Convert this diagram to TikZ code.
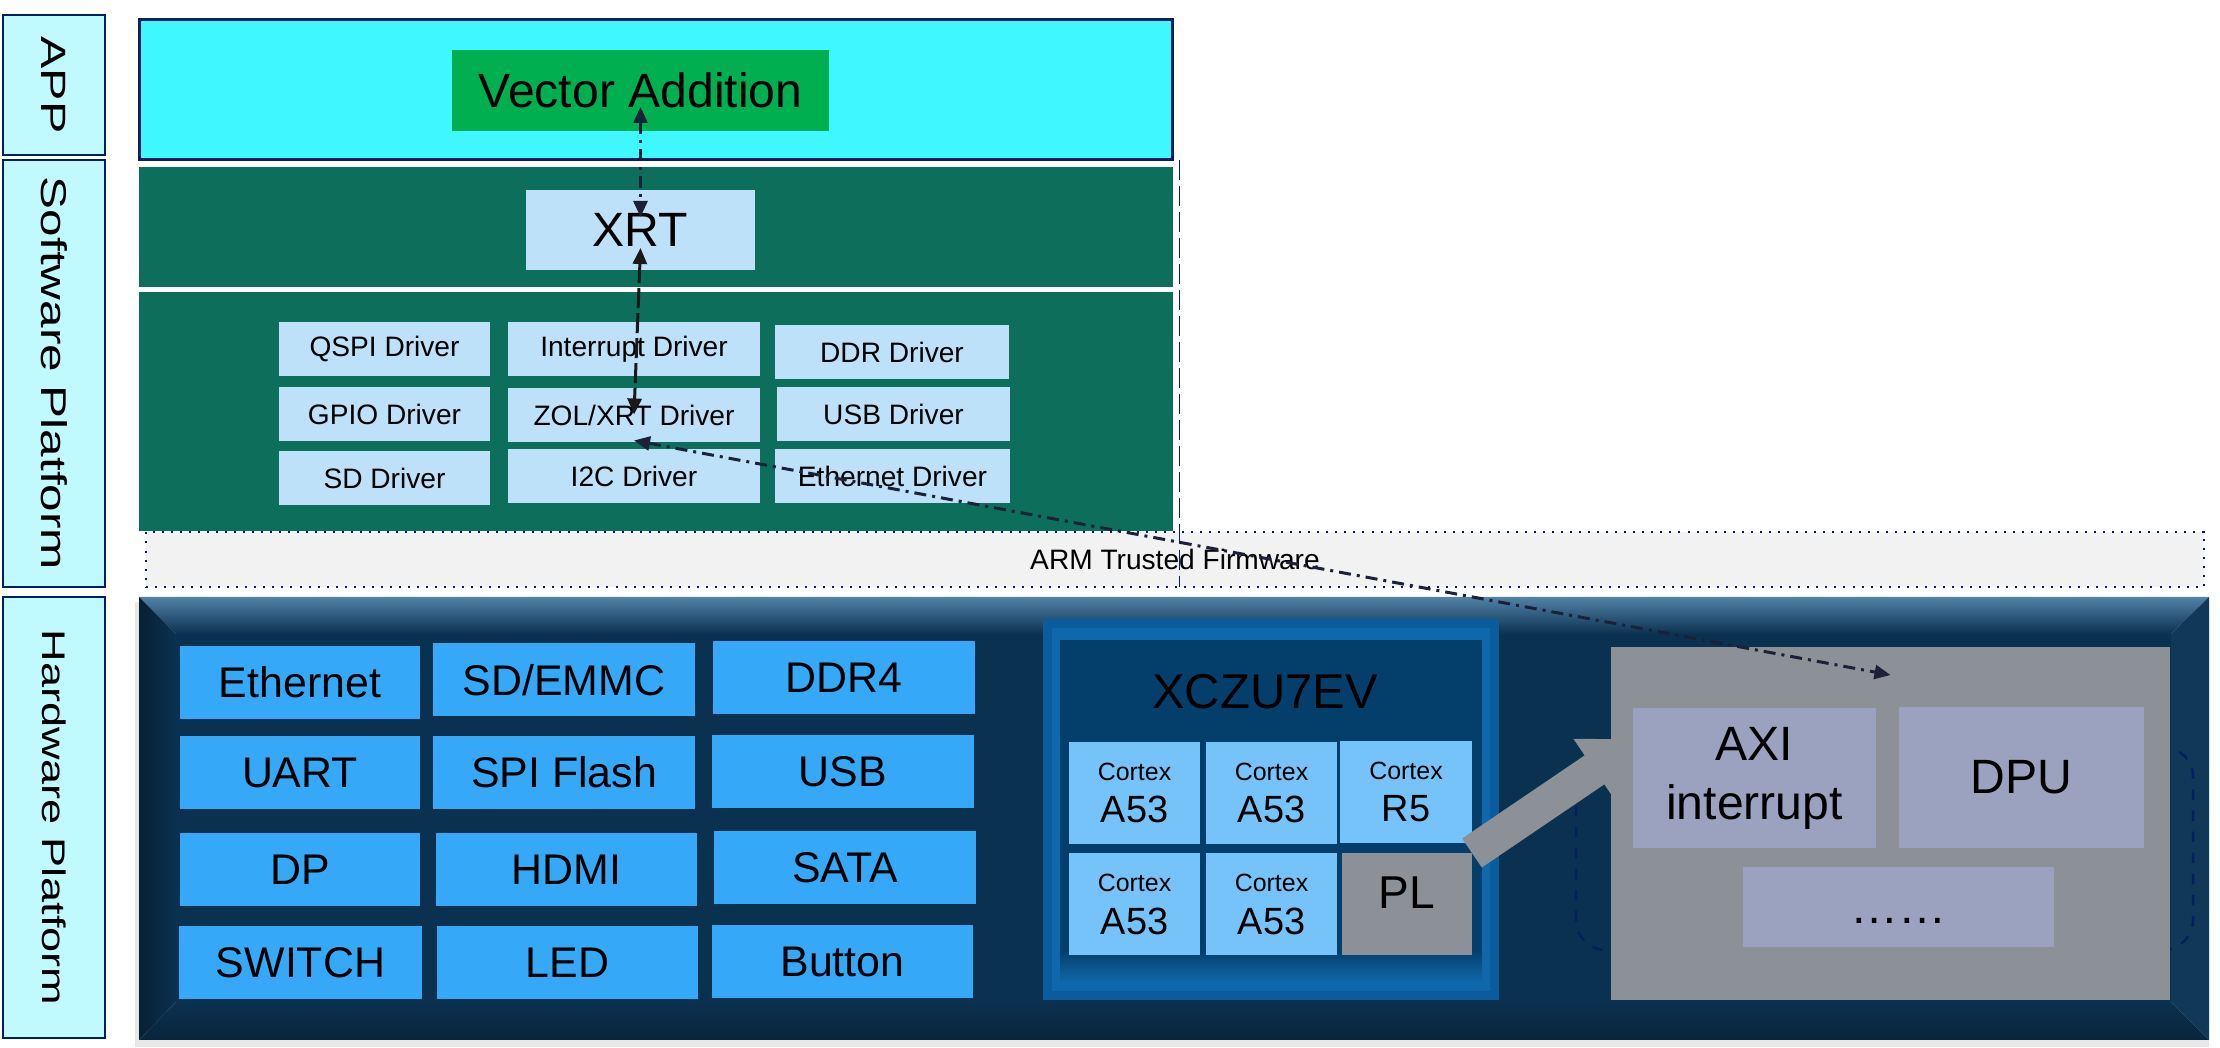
\documentclass[tikz,border=0pt]{standalone}
\usepackage{fontspec}
\setmainfont{Liberation Sans}
\newfontfamily\sidefont[FakeStretch=1.38]{Liberation Sans}
\usetikzlibrary{arrows.meta}
\definecolor{navy}{HTML}{002060}
\definecolor{sidecyan}{HTML}{C0FAFF}
\definecolor{appcyan}{HTML}{3EF7FF}
\definecolor{vagreen}{HTML}{00B050}
\definecolor{swgreen}{HTML}{0C6E5B}
\definecolor{drvblue}{HTML}{BDE1F9}
\definecolor{atfgrey}{HTML}{F2F2F2}
\definecolor{hwblue}{HTML}{35A9F7}
\definecolor{coreblue}{HTML}{76C3FA}
\definecolor{plgrey}{HTML}{8C9097}
\definecolor{lavender}{HTML}{9BA2BF}
\definecolor{linknavy}{HTML}{1B2139}
\definecolor{hwface}{HTML}{0B3150}
\definecolor{hwtop}{HTML}{5282A7}
\definecolor{fpgaedge}{HTML}{0B5C9C}
\definecolor{fpgalight}{HTML}{1068AC}
\definecolor{fpgaface}{HTML}{043F6B}

\begin{document}
\begin{tikzpicture}[x=0.1mm, y=-0.1mm,
	box/.style={rectangle, inner sep=0pt, outer sep=0pt, text=black},
	side/.style={box, fill=sidecyan, draw=navy, line width=0.25mm, minimum width=10.2mm},
	sidetext/.style={rotate=-90, inner sep=0pt, font=\sidefont\fontsize{#1}{12pt}\selectfont},
	band/.style={box, fill=swgreen, minimum width=103.4mm},
	drv/.style={box, fill=drvblue, minimum height=5.4mm, font=\fontsize{8pt}{9.6pt}\selectfont},
	periph/.style={box, fill=hwblue, minimum height=7.3mm, font=\fontsize{12.2pt}{14.6pt}\selectfont},
	core/.style={box, fill=coreblue, align=center, minimum width=13.1mm, minimum height=10.2mm, font=\fontsize{10.8pt}{12.2pt}\selectfont},
	big/.style={box, font=\fontsize{13.7pt}{16.8pt}\selectfont},
	link/.style={draw=linknavy, line width=0.3mm, dash pattern=on 1.2mm off 0.6mm on 0.3mm off 0.6mm, <->, >={Triangle[length=1.6mm, width=1.4mm]}},
]
	\useasboundingbox (0, 0) rectangle (2220, 1048);

	\node[side, minimum height=14mm] (lapp) at (54, 85) {};
	\node[side, minimum height=42.7mm] (lsw) at (54, 373.5) {};
	\node[side, minimum height=44.1mm] (lhw) at (54, 817.5) {};
	\node[sidetext=10pt] (tapp) at (lapp) {APP};
	\node[sidetext=10.2pt] (tsw) at (lsw) {Software Platform};
	\node[sidetext=9.3pt] (thw) at (lhw) {Hardware Platform};

	\node[box, fill=appcyan, draw=navy, line width=0.3mm, minimum width=103.3mm, minimum height=14mm] (appband) at (655.5, 90) {};
	\node[band, minimum height=12mm] (swtop) at (656, 227) {};
	\node[band, minimum height=23.9mm] (swdrv) at (656, 411.5) {};
	\node[box, fill=atfgrey, draw=navy, dotted, line width=0.2mm, minimum width=205.8mm, minimum height=5.5mm, font=\fontsize{8pt}{9.6pt}\selectfont] (atf) at (1175, 559.5) {ARM Trusted Firmware};
	\coordinate (septop) at (1179, 160);
	\coordinate (sepbot) at (1179, 587);
	\draw[navy, line width=0.1mm, dash pattern=on 2mm off 0.6mm] (septop) -- (sepbot);

	\node[big, fill=vagreen, minimum width=37.7mm, minimum height=8.1mm] (va) at (640.5, 90.5) {Vector Addition};
	\node[big, fill=drvblue, minimum width=22.9mm, minimum height=8mm] (xrt) at (640.5, 230) {XRT};

	\node[drv, minimum width=21.1mm] (qspi) at (384.5, 349) {QSPI Driver};
	\node[drv, minimum width=25.2mm] (intr) at (634, 349) {Interrupt Driver};
	\node[drv, minimum width=23.4mm] (ddr) at (892, 352.5) {DDR Driver};
	\node[drv, minimum width=21.1mm] (gpio) at (384.5, 414.5) {GPIO Driver};
	\node[drv, minimum width=25.2mm] (zol) at (634, 415.5) {ZOL/XRT Driver};
	\node[drv, minimum width=23.3mm] (usbd) at (893.5, 414) {USB Driver};
	\node[drv, minimum width=21.1mm] (sdd) at (384.5, 478.5) {SD Driver};
	\node[drv, minimum width=25.2mm] (i2c) at (634, 476) {I2C Driver};
	\node[drv, minimum width=23.5mm] (ethd) at (892.5, 476.5) {Ethernet Driver};

	\fill[black!9] (135, 602) rectangle (2209, 1047);
	\shade[top color=hwtop, bottom color=hwface] (139, 597) -- (2209, 597) -- (2171, 634) -- (176, 634) -- cycle;
	\shade[left color=black!35!hwface, right color=hwface] (139, 597) -- (176, 634) -- (176, 1002) -- (139, 1040) -- cycle;
	\fill[hwface!92!hwtop] (2209, 597) -- (2209, 1040) -- (2171, 1002) -- (2171, 634) -- cycle;
	\shade[top color=hwface, bottom color=black!25!hwface] (139, 1040) -- (176, 1002) -- (2171, 1002) -- (2209, 1040) -- cycle;
	\fill[hwface] (176, 634) rectangle (2171, 1002);

	\node[periph, minimum width=24mm] (eth) at (300, 682.5) {Ethernet};
	\node[periph, minimum width=26.2mm] (sdemmc) at (564, 680) {SD/EMMC};
	\node[periph, minimum width=26.2mm] (ddr4) at (844, 678) {DDR4};
	\node[periph, minimum width=24mm] (uart) at (300, 772.5) {UART};
	\node[periph, minimum width=26.2mm] (spi) at (564, 772.5) {SPI Flash};
	\node[periph, minimum width=26.2mm] (usb) at (843, 772) {USB};
	\node[periph, minimum width=24mm] (dp) at (300, 870) {DP};
	\node[periph, minimum width=26.1mm] (hdmi) at (566.5, 870) {HDMI};
	\node[periph, minimum width=26.2mm] (sata) at (845, 867.5) {SATA};
	\node[periph, minimum width=24.3mm] (switch) at (300.5, 963) {SWITCH};
	\node[periph, minimum width=26.1mm] (led) at (567.5, 962.5) {LED};
	\node[periph, minimum width=26.1mm] (button) at (842.5, 962) {Button};

	\fill[fpgaedge] (1043, 619) rectangle (1499, 1000);
	\fill[fpgalight] (1052, 628) rectangle (1490, 991);
	\fill[fpgaface] (1060, 640) rectangle (1482, 983);
	\shade[top color=fpgaface, bottom color=fpgalight] (1060, 950) rectangle (1482, 983);
	\node[big, font=\fontsize{13.9pt}{16.8pt}\selectfont] (zutitle) at (1265, 692) {XCZU7EV};
	\node[core] (ca1) at (1134.5, 793) {{\fontsize{7.1pt}{12.2pt}\selectfont Cortex}\\A53};
	\node[core] (ca2) at (1271.5, 793) {{\fontsize{7.1pt}{12.2pt}\selectfont Cortex}\\A53};
	\node[core, minimum width=13.2mm] (cr5) at (1406, 792) {{\fontsize{7.1pt}{12.2pt}\selectfont Cortex}\\R5};
	\node[core] (ca3) at (1134.5, 904.5) {{\fontsize{7.1pt}{12.2pt}\selectfont Cortex}\\A53};
	\node[core] (ca4) at (1271.5, 904.5) {{\fontsize{7.1pt}{12.2pt}\selectfont Cortex}\\A53};
	\node[box, fill=plgrey, minimum width=13mm, minimum height=10.2mm, text height=9.4pt, text depth=6.8pt, font=\fontsize{13.1pt}{15.7pt}\selectfont] (pl) at (1407, 904) {PL};

	\node[box, draw=navy, dashed, line width=0.25mm, rounded corners=3mm, minimum width=61.7mm, minimum height=20.3mm] (dpuframe) at (1884.5, 848.5) {};
	\coordinate (axitip) at (1640, 739);
	\draw[plgrey, line width=3.5mm, -{Triangle[length=5.5mm, width=7.1mm]}] (pl.north east) -- (axitip);
	\node[box, fill=plgrey, minimum width=55.9mm, minimum height=35.3mm] (pla) at (1890.5, 823.5) {};
	\node[big, fill=lavender, align=center, minimum width=24.3mm, minimum height=14mm] (axi) at (1754.5, 778) {AXI\\interrupt};
	\node[big, fill=lavender, minimum width=24.5mm, minimum height=14.1mm] (dpu) at (2021.5, 777.5) {DPU};
	\node[big, fill=lavender, minimum width=31.1mm, minimum height=8mm, text height=12pt, text depth=2.5pt] (more) at (1898.5, 907) {……};

	\draw[link] ([yshift=2.4mm]va.south) -- ([yshift=-2.7mm]xrt.north);
	\draw[link, draw=black!90, dash pattern=on 2mm off 0.5mm] ([yshift=2.2mm]xrt.south) -- ([yshift=-2.6mm]zol.north);
	\draw[link] ([yshift=0.2mm]zol.south) -- ([yshift=-2.8mm]pla.north);
\end{tikzpicture}
\end{document}
